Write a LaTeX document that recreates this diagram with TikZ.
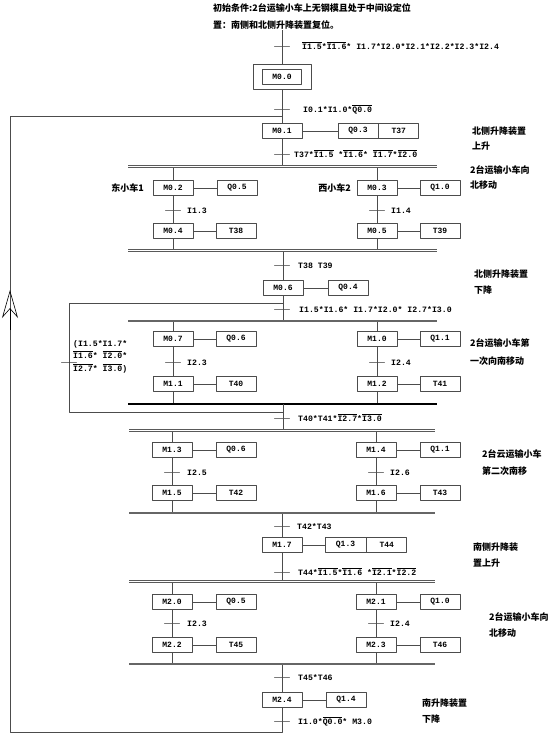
\documentclass[tikz,border=0pt]{standalone}
\usepackage{fontspec}
\setmonofont{Liberation Mono}
\newfontfamily\cjk{Noto Sans CJK SC}
\usetikzlibrary{positioning,arrows.meta}
\newcommand\ov[1]{\leavevmode\vbox{\hrule height 0.5pt\kern 1.2pt\hbox{#1}}}
\tikzset{
	ln/.style={draw=black!70, line width=0.7pt},
	stepbox/.style={draw=black!70, line width=0.7pt, minimum width=40pt, minimum height=15pt, inner sep=0pt, font=\ttfamily\bfseries\fontsize{8}{9}\selectfont},
	trans/.style={draw=black!80, line width=0.7pt, minimum width=15pt, minimum height=0pt, inner sep=0pt},
	trlbl/.style={anchor=base west, inner sep=0pt, yshift=-3pt, font=\ttfamily\bfseries\fontsize{8.2}{9}\selectfont},
	note/.style={anchor=west, inner sep=0pt, font=\cjk\bfseries\fontsize{9}{10}\selectfont},
	dbus/.style={draw=black!65, double=white, double distance=1.8pt, line width=0.7pt},
	sbus/.style={draw=black!60, line width=1.5pt},
}
\begin{document}
\begin{tikzpicture}[x=1pt, y=-1pt, line join=round]
	\useasboundingbox (0,0) rectangle (555,739);
	% initial step
	\node[note] (ttl1) at (213,8) {初始条件:2台运输小车上无钢模且处于中间设定位};
	\node[note] (ttl2) at (213,25) {置：南侧和北侧升降装置复位。};
	\coordinate (top) at (282,30);
	\node[trans] (t0) at (282,46) {};
	\node[trlbl] (l0) at (302,46) {\ov{I1.5}*\ov{I1.6}* I1.7*I2.0*I2.1*I2.2*I2.3*I2.4};
	\node[draw=black!70, line width=0.7pt, minimum width=58pt, minimum height=25pt] (M00o) at (282,76.5) {};
	\node[stepbox, minimum width=39pt] (M00) at (282,76.5) {M0.0};
	\draw[ln] (top) -- (M00o.north);
	\node[trans] (t1) at (282,109) {};
	\node[trlbl] (l1) at (303,109) {I0.1*I1.0*\ov{Q0.0}};
	% north lift up
	\node[stepbox] (M01) at (282,131) {M0.1};
	\node[stepbox] (Q03) at (358,131) {Q0.3};
	\node[stepbox, right=0pt of Q03] (T37) {T37};
	\draw[ln] (M00o.south) -- (M01.north);
	\draw[ln] (M01) -- (Q03);
	\node[note] (n1a) at (472,131) {北侧升降装置};
	\node[note] (n1b) at (472,146) {上升};
	\node[trans] (t2) at (282,154) {};
	\node[trlbl] (l2) at (294,154) {T37*\ov{I1.5} *\ov{I1.6}* \ov{I1.7}*\ov{I2.0}};
	\coordinate (d1w) at (128,166.5);
	\coordinate (d1e) at (437,166.5);
	\draw[ln] (M01.south) -- (M01.south |- d1w);
	% cars north
	\node[stepbox] (M02) at (173,188) {M0.2};
	\node[stepbox] (Q05a) at (237,188) {Q0.5};
	\node[note, anchor=east] (car1) at (144,188) {东小车1};
	\node[stepbox] (M03) at (377,188) {M0.3};
	\node[stepbox] (Q10a) at (440,188) {Q1.0};
	\node[note, anchor=east] (car2) at (351,188) {西小车2};
	\node[note] (n2a) at (470,170) {2台运输小车向};
	\node[note] (n2b) at (470,185) {北移动};
	\node[trans] (t3) at (173,210) {};
	\node[trlbl] (l3) at (187,210) {I1.3};
	\node[trans] (t4) at (377,210) {};
	\node[trlbl] (l4) at (391,210) {I1.4};
	\node[stepbox] (M04) at (173,231) {M0.4};
	\node[stepbox] (T38) at (236,231) {T38};
	\node[stepbox] (M05) at (377,231) {M0.5};
	\node[stepbox] (T39) at (440,231) {T39};
	\draw[ln] (M02 |- d1w) -- (M02.north) (M02) -- (Q05a) (M02.south) -- (M04.north) (M04) -- (T38);
	\draw[ln] (M03 |- d1w) -- (M03.north) (M03) -- (Q10a) (M03.south) -- (M05.north) (M05) -- (T39);
	\coordinate (c1w) at (128,250.5);
	\coordinate (c1e) at (437,250.5);
	\draw[ln] (M04.south) -- (M04 |- c1w) (M05.south) -- (M05 |- c1w);
	\draw[dbus] (d1w) -- (d1e);
	% north lift down
	\node[trans] (t5) at (282,265) {};
	\node[trlbl] (l5) at (298,265) {T38 T39};
	\node[stepbox] (M06) at (283,288) {M0.6};
	\node[stepbox] (Q04) at (348,288) {Q0.4};
	\draw[ln] (M06 |- c1w) -- (M06.north) (M06) -- (Q04);
	\draw[dbus] (c1w) -- (c1e);
	\node[note] (n3a) at (474,274) {北侧升降装置};
	\node[note] (n3b) at (474,290) {下降};
	\coordinate (lp1) at (69,303);
	\coordinate (lp2) at (69,412);
	\node[trans] (t6) at (282,309) {};
	\node[trlbl] (l6) at (299,309) {I1.5*I1.6* I1.7*I2.0* I2.7*I3.0};
	\coordinate (d2w) at (128,321);
	\coordinate (d2e) at (437,321);
	\draw[ln] (M06.south) -- (M06.south |- d2w);
	\draw[ln] (M06 |- lp1) -- (lp1) -- (lp2) -- (M06 |- lp2);
	\node[trans] (t9) at (69,362) {};
	\node[trlbl] (l9a) at (73,343) {(I1.5*I1.7*};
	\node[trlbl] (l9b) at (73,355) {\ov{I1.6}* \ov{I2.0}*};
	\node[trlbl] (l9c) at (73,368) {\ov{I2.7}* \ov{I3.0})};
	% cars south, first
	\node[stepbox] (M07) at (173,339) {M0.7};
	\node[stepbox] (Q06a) at (236,339) {Q0.6};
	\node[stepbox] (M10) at (377,339) {M1.0};
	\node[stepbox] (Q11a) at (440,339) {Q1.1};
	\node[note] (n4a) at (470,343) {2台运输小车第};
	\node[note] (n4b) at (470,361) {一次向南移动};
	\node[trans] (t7) at (173,362) {};
	\node[trlbl] (l7) at (187,362) {I2.3};
	\node[trans] (t8) at (377,362) {};
	\node[trlbl] (l8) at (391,362) {I2.4};
	\node[stepbox] (M11) at (173,384) {M1.1};
	\node[stepbox] (T40) at (236,384) {T40};
	\node[stepbox] (M12) at (377,384) {M1.2};
	\node[stepbox] (T41) at (440,384) {T41};
	\coordinate (c2w) at (128,404);
	\coordinate (c2e) at (437,404);
	\draw[ln] (M07 |- d2w) -- (M07.north) (M07) -- (Q06a) (M07.south) -- (M11.north) (M11) -- (T40) (M11.south) -- (M11 |- c2w);
	\draw[ln] (M10 |- d2w) -- (M10.north) (M10) -- (Q11a) (M10.south) -- (M12.north) (M12) -- (T41) (M12.south) -- (M12 |- c2w);
	\draw[sbus] (d2w) -- (d2e);
	\draw[draw=black, line width=1.4pt] (c2w) -- (c2e);
	\node[trans] (t10) at (282,418) {};
	\node[trlbl] (l10) at (298,418) {T40*T41*\ov{I2.7}*\ov{I3.0}};
	\coordinate (d3w) at (129,430.5);
	\coordinate (d3e) at (435,430.5);
	\draw[ln] (M06 |- c2w) -- (M06 |- d3w);
	% cars south, second
	\node[stepbox] (M13) at (172,450) {M1.3};
	\node[stepbox] (Q06b) at (236,450) {Q0.6};
	\node[stepbox] (M14) at (376,450) {M1.4};
	\node[stepbox] (Q11b) at (440,450) {Q1.1};
	\node[note] (n5a) at (482,454) {2台云运输小车};
	\node[note] (n5b) at (482,471) {第二次南移};
	\node[trans] (t11) at (172,472) {};
	\node[trlbl] (l11) at (187,472) {I2.5};
	\node[trans] (t12) at (376,472) {};
	\node[trlbl] (l12) at (390,472) {I2.6};
	\node[stepbox] (M15) at (172,493) {M1.5};
	\node[stepbox] (T42) at (236,493) {T42};
	\node[stepbox] (M16) at (376,493) {M1.6};
	\node[stepbox] (T43) at (440,493) {T43};
	\coordinate (c3w) at (129,513);
	\coordinate (c3e) at (435,513);
	\draw[ln] (M13 |- d3w) -- (M13.north) (M13) -- (Q06b) (M13.south) -- (M15.north) (M15) -- (T42) (M15.south) -- (M15 |- c3w);
	\draw[ln] (M14 |- d3w) -- (M14.north) (M14) -- (Q11b) (M14.south) -- (M16.north) (M16) -- (T43) (M16.south) -- (M16 |- c3w);
	\draw[dbus] (d3w) -- (d3e);
	% south lift up
	\node[trans] (t13) at (282,526) {};
	\node[trlbl] (l13) at (297,526) {T42*T43};
	\node[stepbox] (M17) at (282,545) {M1.7};
	\node[stepbox, minimum width=41pt] (Q13) at (345.5,545) {Q1.3};
	\node[stepbox, right=0pt of Q13] (T44) {T44};
	\draw[ln] (M17 |- c3w) -- (M17.north) (M17) -- (Q13);
	\draw[sbus] (c3w) -- (c3e);
	\node[note] (n6a) at (473,547) {南侧升降装};
	\node[note] (n6b) at (473,563) {置上升};
	\node[trans] (t14) at (282,572) {};
	\node[trlbl] (l14) at (298,572) {T44*\ov{I1.5}*\ov{I1.6} *\ov{I2.1}*\ov{I2.2}};
	\coordinate (d4w) at (129,581.5);
	\coordinate (d4e) at (435,581.5);
	\draw[ln] (M17.south) -- (M17.south |- d4w);
	% cars north again
	\node[stepbox] (M20) at (172,602) {M2.0};
	\node[stepbox] (Q05b) at (236,602) {Q0.5};
	\node[stepbox] (M21) at (376,602) {M2.1};
	\node[stepbox] (Q10b) at (440,602) {Q1.0};
	\node[note] (n7a) at (489,617) {2台运输小车向};
	\node[note] (n7b) at (489,633) {北移动};
	\node[trans] (t15) at (172,623) {};
	\node[trlbl] (l15) at (187,623) {I2.3};
	\node[trans] (t16) at (376,623) {};
	\node[trlbl] (l16) at (390,623) {I2.4};
	\node[stepbox] (M22) at (172,645) {M2.2};
	\node[stepbox] (T45) at (236,645) {T45};
	\node[stepbox] (M23) at (376,645) {M2.3};
	\node[stepbox] (T46) at (440,645) {T46};
	\coordinate (c4w) at (129,664);
	\coordinate (c4e) at (435,664);
	\draw[ln] (M20 |- d4w) -- (M20.north) (M20) -- (Q05b) (M20.south) -- (M22.north) (M22) -- (T45) (M22.south) -- (M22 |- c4w);
	\draw[ln] (M21 |- d4w) -- (M21.north) (M21) -- (Q10b) (M21.south) -- (M23.north) (M23) -- (T46) (M23.south) -- (M23 |- c4w);
	\draw[dbus] (d4w) -- (d4e);
	% south lift down
	\node[trans] (t17) at (282,677) {};
	\node[trlbl] (l17) at (298,677) {T45*T46};
	\node[stepbox] (M24) at (282,700) {M2.4};
	\node[stepbox] (Q14) at (346,700) {Q1.4};
	\draw[ln] (M24 |- c4w) -- (M24.north) (M24) -- (Q14);
	\draw[sbus] (c4w) -- (c4e);
	\node[note] (n8a) at (422,703) {南升降装置};
	\node[note] (n8b) at (422,719) {下降};
	\node[trans] (t18) at (282,721) {};
	\node[trlbl] (l18) at (298,721) {I1.0*\ov{Q0.0}* M3.0};
	% return to M0.1
	\coordinate (bot) at (282,732);
	\coordinate (botl) at (10,732);
	\coordinate (topl) at (10,116);
	\draw[ln] (M24.south) -- (bot) -- (botl) -- (topl) -- (M01 |- topl);
	\draw[line width=0.6pt, -{Stealth[open, length=28pt, width=16pt, inset=9pt]}] (10,330) -- (10,290);
\end{tikzpicture}
\end{document}
